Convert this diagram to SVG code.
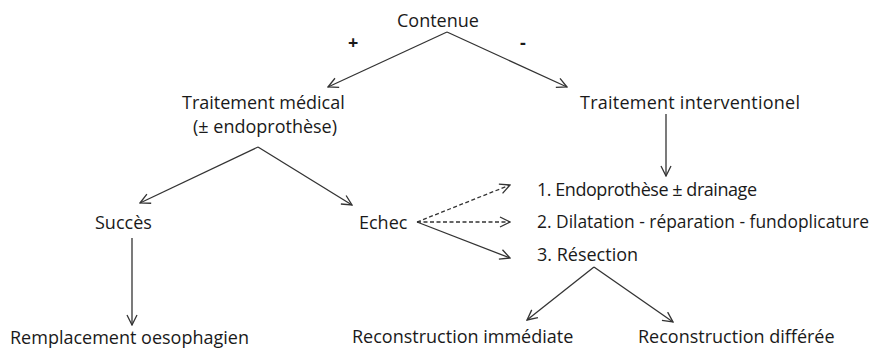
<svg xmlns="http://www.w3.org/2000/svg" width="875" height="349" viewBox="0 0 875 349">
<style>
text{font-family:"Open Sans","Liberation Sans",sans-serif;font-size:18px;fill:#1a1a1a}
.b{font-weight:bold}
.s{font-size:17.4px}
.c line{stroke:#333;stroke-width:1.3;fill:none;marker-end:url(#a)}
.c .d{stroke-dasharray:4 2.5}
</style>
<defs>
<marker id="a" viewBox="0 0 12 12" refX="11" refY="6" markerWidth="12" markerHeight="12" markerUnits="userSpaceOnUse" orient="auto">
<path d="M1,1 L11,6 L1,11" fill="none" stroke="#333" stroke-width="1.3"/>
</marker>
</defs>
<rect width="875" height="349" fill="#fff"/>
<g class="c" id="connectors">
<line x1="447" y1="32" x2="328" y2="87"/>
<line x1="447" y1="32" x2="567" y2="87"/>
<line x1="666" y1="114" x2="666" y2="176"/>
<line x1="258" y1="147" x2="140" y2="203"/>
<line x1="258" y1="147" x2="352" y2="205"/>
<line x1="132" y1="238" x2="132" y2="325"/>
<line class="d" x1="417" y1="222" x2="510" y2="185"/>
<line class="d" x1="417" y1="222" x2="510" y2="222"/>
<line x1="417" y1="222" x2="510" y2="258"/>
<line x1="594" y1="267" x2="527" y2="320"/>
<line x1="594" y1="267" x2="673" y2="322"/>
</g>
<g id="contenue"><text x="397" y="27">Contenue</text></g>
<g id="plus"><text class="b" x="348" y="49">+</text></g>
<g id="minus"><text class="b" x="520" y="49">-</text></g>
<g id="medical"><text x="182" y="109">Traitement médical</text><text x="193" y="133">(± endoprothèse)</text></g>
<g id="interventionel"><text x="580" y="109" textLength="220">Traitement interventionel</text></g>
<g id="succes"><text x="95" y="229">Succès</text></g>
<g id="echec"><text x="359" y="229">Echec</text></g>
<g id="opt1"><text x="537" y="196" textLength="220">1. Endoprothèse ± drainage</text></g>
<g id="opt2"><text class="s" x="537" y="228">2. Dilatation - réparation - fundoplicature</text></g>
<g id="opt3"><text x="537" y="261">3. Résection</text></g>
<g id="remplacement"><text x="10" y="344">Remplacement oesophagien</text></g>
<g id="immediate"><text x="352" y="343">Reconstruction immédiate</text></g>
<g id="differee"><text x="638" y="343">Reconstruction différée</text></g>
</svg>
